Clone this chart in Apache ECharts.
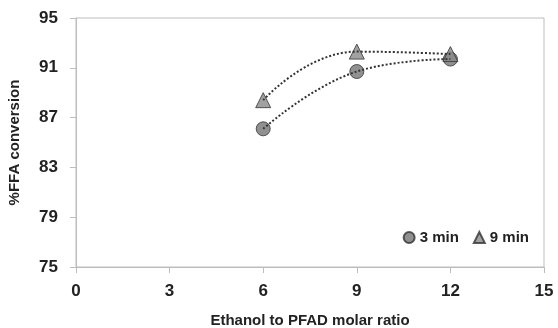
<!DOCTYPE html>
<html>
<head>
<meta charset="utf-8">
<script src="https://cdn.jsdelivr.net/npm/echarts@6/dist/echarts.min.js"></script>
<style>
  html, body { margin: 0; padding: 0; background: #fff; }
  #chart { width: 558px; height: 328px; }
</style>
</head>
<body>
<div id="chart"></div>
<script>
const ratios = [6, 9, 12]
const conv3min = [86.1, 90.7, 91.7]
const conv9min = [88.4, 92.3, 92.1]

const FONT = '"Liberation Sans Narrow", "Liberation Sans", Arial, sans-serif'
const pairs = (ys) => ratios.map((x, i) => [x, ys[i]])

const chart = echarts.init(document.getElementById('chart'))
chart.setOption({
  animation: false,
  grid: {
    left: 76, right: 14, top: 18, bottom: 61, outerBoundsMode: 'none',
    show: true, borderColor: '#bdbdbd', borderWidth: 1
  },
  xAxis: {
    type: 'value', min: 0, max: 15, interval: 3,
    name: 'Ethanol to PFAD molar ratio', nameLocation: 'middle', nameGap: 46,
    nameTextStyle: { fontFamily: FONT, fontWeight: 'bold', fontSize: 15, color: '#222' },
    axisLine: { lineStyle: { color: '#bdbdbd' } },
    axisTick: { show: true, inside: false, length: 6, lineStyle: { color: '#bdbdbd' } },
    axisLabel: { fontFamily: FONT, fontWeight: 'bold', fontSize: 17, color: '#222', margin: 16 },
    splitLine: { show: false }
  },
  yAxis: {
    type: 'value', min: 75, max: 95, interval: 4,
    name: '%FFA conversion', nameLocation: 'middle', nameGap: 54,
    nameTextStyle: { fontFamily: FONT, fontWeight: 'bold', fontSize: 15, color: '#222' },
    axisLine: { show: true, lineStyle: { color: '#bdbdbd' } },
    axisTick: { show: true, length: 6, lineStyle: { color: '#bdbdbd' } },
    axisLabel: { fontFamily: FONT, fontWeight: 'bold', fontSize: 17, color: '#222', margin: 18 },
    splitLine: { show: false }
  },
  legend: {
    right: 24, bottom: 78, itemGap: 14, itemWidth: 11, itemHeight: 11,
    textStyle: { fontFamily: FONT, fontWeight: 'bold', fontSize: 15, color: '#222' },
    data: [
      { name: '3 min', icon: 'circle' },
      { name: '9 min', icon: 'triangle' }
    ]
  },
  series: [
    {
      type: 'line', data: pairs(conv3min), smooth: 0.45, symbol: 'none', silent: true,
      lineStyle: { color: '#333', width: 2, type: [2, 2] }, z: 3
    },
    {
      type: 'line', data: pairs(conv9min), smooth: 0.5, symbol: 'none', silent: true,
      lineStyle: { color: '#333', width: 2, type: [2, 2] }, z: 3
    },
    {
      name: '3 min', type: 'scatter', data: pairs(conv3min), symbol: 'circle', symbolSize: 14,
      itemStyle: { color: '#747474', borderColor: '#333', borderWidth: 1 }, z: 2
    },
    {
      name: '9 min', type: 'scatter', data: pairs(conv9min), symbol: 'triangle', symbolSize: 15,
      itemStyle: { color: '#8a8a8a', borderColor: '#333', borderWidth: 1 }, z: 2
    }
  ]
})
</script>
</body>
</html>
